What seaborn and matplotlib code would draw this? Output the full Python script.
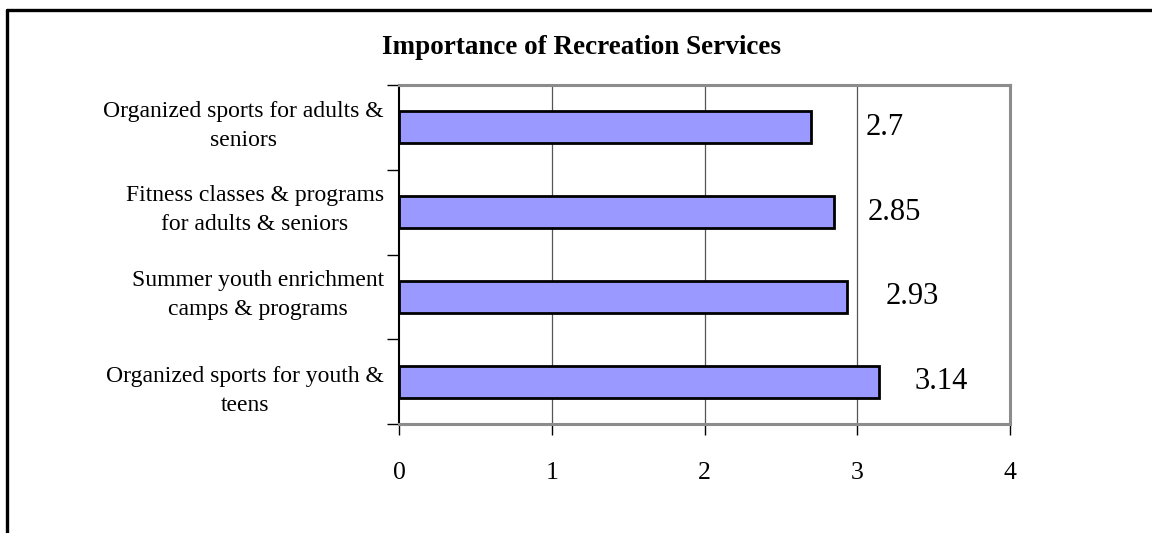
import matplotlib
matplotlib.use("Agg")
import matplotlib.pyplot as plt
from matplotlib.lines import Line2D
from matplotlib.transforms import ScaledTranslation
import seaborn as sns
import pandas as pd

# Survey results: mean importance rating per recreation service
services = [
    "Organized sports for adults &\nseniors",
    "Fitness classes & programs\nfor adults & seniors",
    "Summer youth enrichment\ncamps & programs",
    "Organized sports for youth &\nteens",
]
ratings = [2.7, 2.85, 2.93, 3.14]
x_ticks = [0, 1, 2, 3, 4]
title = "Importance of Recreation Services"

# horizontal nudge of each value label from its bar end (data units)
label_offsets = [0.48, 0.39, 0.43, 0.41]
# vertical nudge of each category label (points, positive = up)
category_shift = [6, 6, 6, -2]

sns.set_theme(style="white")
plt.rcParams["font.family"] = ["Liberation Serif", "DejaVu Serif"]
plt.rcParams["text.color"] = "black"
plt.rcParams["xtick.color"] = "black"
plt.rcParams["ytick.color"] = "black"
plt.rcParams["axes.labelcolor"] = "black"

df = pd.DataFrame({"service": services, "rating": ratings})

fig = plt.figure(figsize=(11.52, 5.33), dpi=100)
ax = fig.add_axes([0.3464, 0.2045, 0.5304, 0.636])

sns.barplot(data=df, x="rating", y="service", order=services, orient="h",
            color="#9999FF", saturation=1, width=0.38,
            edgecolor="black", linewidth=2.0, ax=ax, zorder=3)

ax.set_xlim(0, 4)
ax.set_ylim(3.5, -0.5)
ax.set_xlabel("")
ax.set_ylabel("")

# vertical gridlines
for v in x_ticks[1:-1]:
    ax.axvline(v, color="#555555", linewidth=0.9, zorder=1)

# x axis
ax.set_xticks(x_ticks)
ax.set_xticklabels([str(t) for t in x_ticks], fontsize=18.5, color="black")
ax.tick_params(axis="x", direction="out", length=8, width=1.0, color="black",
               pad=19, bottom=True)

# y axis: labels at bar centers, tick marks at category boundaries
ax.set_yticks(range(len(services)))
ax.set_yticklabels(services, fontsize=17, linespacing=1.5,
                   multialignment="center", color="black")
ax.set_yticks([i - 0.5 for i in range(len(services) + 1)], minor=True)
ax.tick_params(axis="y", which="major", length=0, pad=11)
ax.tick_params(axis="y", which="minor", direction="out", length=9, width=1.0,
               color="black", left=True)
for lbl, dy in zip(ax.get_yticklabels(), category_shift):
    lbl.set_transform(lbl.get_transform()
                      + ScaledTranslation(0, dy / 72, fig.dpi_scale_trans))

# plot area border
ax.spines["left"].set_color("black")
ax.spines["left"].set_linewidth(1.5)
for side in ["top", "right", "bottom"]:
    ax.spines[side].set_visible(True)
    ax.spines[side].set_color("#8c8c8c")
    ax.spines[side].set_linewidth(2.2)

# value labels
for i, (r, off) in enumerate(zip(ratings, label_offsets)):
    ax.text(r + off, i, f"{r:g}", ha="center", va="center", fontsize=22,
            color="black", zorder=4)

fig.text(581 / 1152, 1 - 48 / 533, title, ha="center", va="center",
         fontsize=19.5, fontweight="bold", color="black")

# outer chart frame (left and top edges)
fx, fy = 7 / 1152, 1 - 10 / 533
fig.add_artist(Line2D([fx, fx], [0, fy], color="black", linewidth=2.4,
                      transform=fig.transFigure))
fig.add_artist(Line2D([fx, 1], [fy, fy], color="black", linewidth=2.4,
                      transform=fig.transFigure))

fig.savefig("out.png", dpi=100, facecolor="white")
